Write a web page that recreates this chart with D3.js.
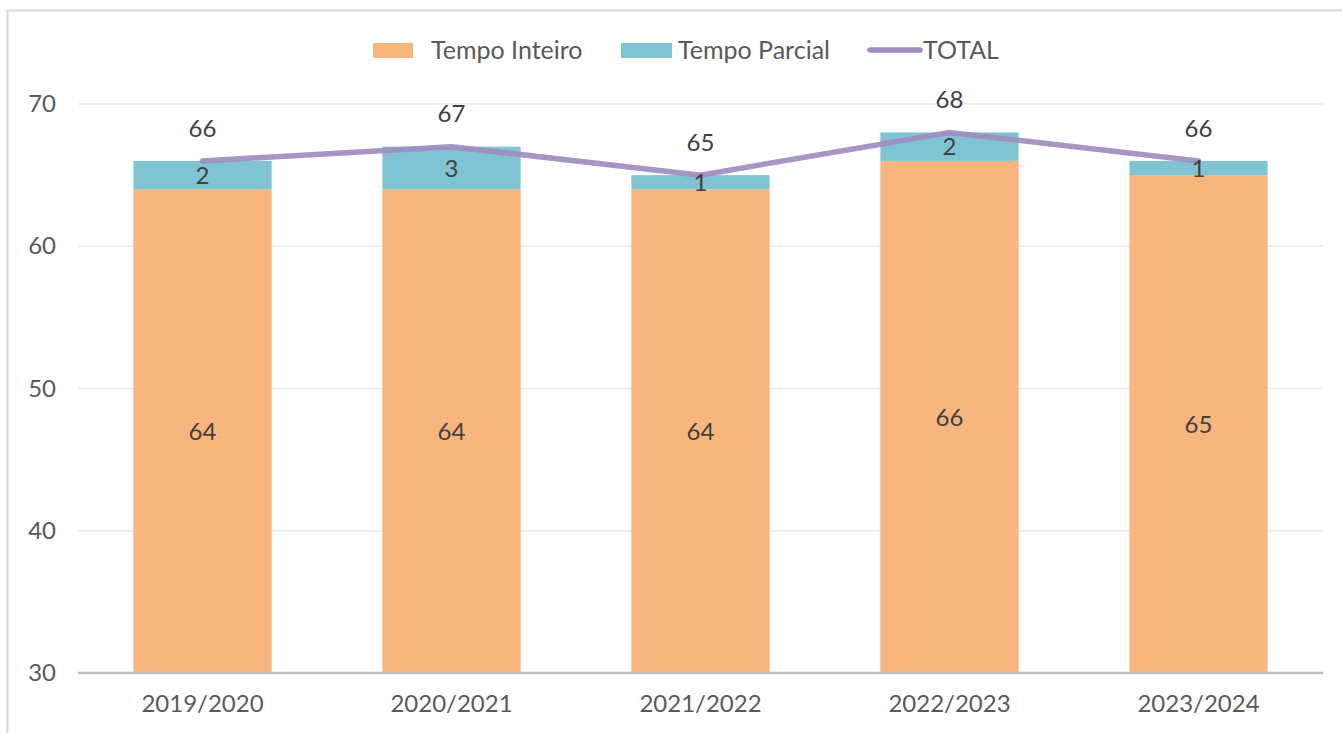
<!DOCTYPE html>
<html>
<head>
<meta charset="utf-8">
<script src="https://cdn.jsdelivr.net/npm/d3@7"></script>
<style>
  body { margin: 0; background: #fff; }
  svg { display: block; font-family: Lato, "Open Sans", sans-serif; }
</style>
</head>
<body>
<div id="chart"></div>
<script>
// chart data
var anos = ["2019/2020", "2020/2021", "2021/2022", "2022/2023", "2023/2024"];
var tempoInteiro = [64, 64, 64, 66, 65];
var tempoParcial = [2, 3, 1, 2, 1];
var total = [66, 67, 65, 68, 66];
var yTicks = [30, 40, 50, 60, 70];

var W = 1342, H = 733;
var margin = {top: 104, right: 19, bottom: 60, left: 78};
var colInteiro = "#F9B57E", colParcial = "#80C4D4", colTotal = "#A08CBF";
var textcolor = "#404040", tickcolor = "#595959";

var svg = d3.select("#chart").append("svg")
    .attr("width", W).attr("height", H);

// outer frame (only top and left visible in the picture)
svg.append("path")
    .attr("d", "M7.5," + H + " L7.5,10.5 L" + W + ",10.5")
    .attr("fill", "none").attr("stroke", "#D9D9D9").attr("stroke-width", 2);

var x = d3.scaleBand().domain(anos)
    .range([margin.left, W - margin.right])
    .paddingInner(0.445).paddingOuter(0.2225);
var y = d3.scaleLinear().domain([30, 70])
    .range([H - margin.bottom, margin.top]);

// gridlines
svg.append("g").selectAll("line")
    .data(yTicks.filter(function (d) { return d > 30; }))
    .join("line")
    .attr("x1", margin.left).attr("x2", W - margin.right)
    .attr("y1", function (d) { return y(d); })
    .attr("y2", function (d) { return y(d); })
    .attr("stroke", "#EBEBEB").attr("stroke-width", 1.3);

// y axis labels
var yAxis = svg.append("g")
    .attr("transform", "translate(" + (margin.left - 22) + ",0)")
    .call(d3.axisLeft(y).tickValues(yTicks).tickSize(0).tickPadding(0));
yAxis.select(".domain").remove();
yAxis.selectAll("text").attr("fill", tickcolor)
    .style("font-size", "24px").style("font-family", "Lato, sans-serif");

// bars
var bars = svg.append("g");
bars.selectAll("rect.inteiro").data(anos).join("rect")
    .attr("class", "inteiro")
    .attr("x", function (d) { return x(d); })
    .attr("width", x.bandwidth())
    .attr("y", function (d, i) { return y(tempoInteiro[i]); })
    .attr("height", function (d, i) { return y(30) - y(tempoInteiro[i]); })
    .attr("fill", colInteiro);
bars.selectAll("rect.parcial").data(anos).join("rect")
    .attr("class", "parcial")
    .attr("x", function (d) { return x(d); })
    .attr("width", x.bandwidth())
    .attr("y", function (d, i) { return y(tempoInteiro[i] + tempoParcial[i]); })
    .attr("height", function (d, i) {
        return y(tempoInteiro[i]) - y(tempoInteiro[i] + tempoParcial[i]); })
    .attr("fill", colParcial);

// x axis baseline
var xAxis = svg.append("g")
    .attr("transform", "translate(0," + y(30) + ")")
    .call(d3.axisBottom(x).tickSize(0).tickPadding(22));
xAxis.select(".domain").attr("stroke", "#BFBFBF").attr("stroke-width", 2.5)
    .attr("d", "M" + margin.left + ",0H" + (W - margin.right));
xAxis.selectAll("text").attr("fill", tickcolor)
    .style("font-size", "24px").style("font-family", "Lato, sans-serif");

// total line
var cx = function (d) { return x(d) + x.bandwidth() / 2; };
svg.append("path")
    .datum(anos)
    .attr("fill", "none")
    .attr("stroke", colTotal).attr("stroke-opacity", 0.92)
    .attr("stroke-width", 5.5).attr("stroke-linecap", "round")
    .attr("d", d3.line()
        .x(cx)
        .y(function (d, i) { return y(total[i]); }));

// data labels
var labels = svg.append("g").attr("fill", textcolor)
    .attr("text-anchor", "middle").style("font-size", "24px");
labels.selectAll("text.li").data(anos).join("text")
    .attr("x", cx)
    .attr("y", function (d, i) { return (y(30) + y(tempoInteiro[i])) / 2; })
    .attr("dy", "0.36em")
    .text(function (d, i) { return tempoInteiro[i]; });
labels.selectAll("text.lp").data(anos).join("text")
    .attr("x", cx)
    .attr("y", function (d, i) {
        return (y(tempoInteiro[i]) + y(tempoInteiro[i] + tempoParcial[i])) / 2; })
    .attr("dy", "0.36em")
    .text(function (d, i) { return tempoParcial[i]; });
labels.selectAll("text.lt").data(anos).join("text")
    .attr("x", cx)
    .attr("y", function (d, i) { return y(total[i]) - 33; })
    .attr("dy", "0.36em")
    .text(function (d, i) { return total[i]; });

// legend
var legend = svg.append("g").style("font-size", "25px").attr("fill", tickcolor);
legend.append("rect").attr("x", 373).attr("y", 43).attr("width", 40).attr("height", 15)
    .attr("fill", colInteiro);
legend.append("text").attr("x", 431).attr("y", 50).attr("dy", "0.36em")
    .text("Tempo Inteiro");
legend.append("rect").attr("x", 621).attr("y", 43).attr("width", 51).attr("height", 15)
    .attr("fill", colParcial);
legend.append("text").attr("x", 678).attr("y", 50).attr("dy", "0.36em")
    .text("Tempo Parcial");
legend.append("line").attr("x1", 870).attr("x2", 920).attr("y1", 50).attr("y2", 50)
    .attr("stroke", colTotal).attr("stroke-width", 5.5).attr("stroke-linecap", "round");
legend.append("text").attr("x", 923).attr("y", 50).attr("dy", "0.36em")
    .text("TOTAL");
</script>
</body>
</html>
